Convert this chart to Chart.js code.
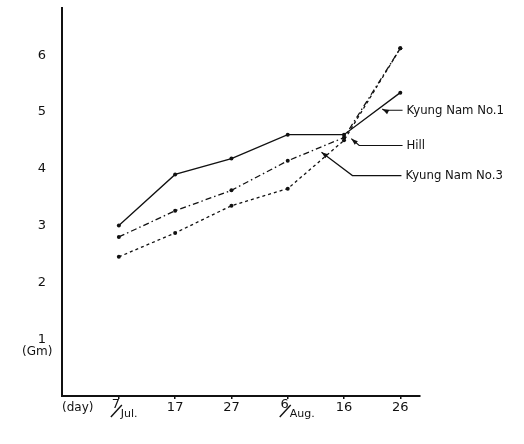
<!DOCTYPE html>
<html>
<head>
<meta charset="utf-8">
<script src="https://cdn.jsdelivr.net/npm/chart.js@4/dist/chart.umd.min.js"></script>
<style>
  html, body { margin: 0; padding: 0; background: #fff; }
  #wrap { width: 524px; height: 444px; position: relative; }
</style>
</head>
<body>
<div id="wrap"><canvas id="growthChart"></canvas></div>
<script>
// sampling dates (day / month)
const days = ["7", "17", "27", "6", "16", "26"]
const months = ["Jul.", "", "", "Aug.", "", ""]
const yTicks = [1, 2, 3, 4, 5, 6]

// weight (Gm)
const kyungNam1 = [3.0, 3.9, 4.18, 4.6, 4.6, 5.34]
const kyungNam3 = [2.8, 3.26, 3.62, 4.14, 4.55, 6.12]
const hill = [2.45, 2.87, 3.35, 3.65, 4.5, 6.12]

// callout leaders, in data units: arrow tip, elbow, end of line
const callouts = [
  { text: "Kyung Nam No.1", tip: [4.68, 5.05], elbow: [4.72, 5.03], end: [5.04, 5.03] },
  { text: "Hill", tip: [4.13, 4.53], elbow: [4.27, 4.41], end: [5.04, 4.41] },
  { text: "Kyung Nam No.3", tip: [3.6, 4.29], elbow: [4.15, 3.88], end: [5.02, 3.88] },
]

const toPoints = (vals) => vals.map((v, i) => ({ x: i, y: v }))

const ctx = document.getElementById("growthChart").getContext("2d")

const lineStyle = (label, vals, dash) => ({
  label: label,
  data: toPoints(vals),
  borderColor: "#111",
  backgroundColor: "#111",
  borderWidth: 1.3,
  borderDash: dash,
  pointRadius: 2,
  pointBorderWidth: 0,
  tension: 0,
})

const annotatePlugin = {
  id: "annotate",
  afterDraw(chart) {
    const { ctx, scales: { x, y } } = chart
    const px = (p) => [x.getPixelForValue(p[0]), y.getPixelForValue(p[1])]
    ctx.save()
    ctx.fillStyle = "#111"
    ctx.strokeStyle = "#111"

    // y tick labels
    ctx.font = "13px 'DejaVu Sans'"
    ctx.textAlign = "right"
    ctx.textBaseline = "middle"
    yTicks.forEach((t) => ctx.fillText(String(t), 46, y.getPixelForValue(t)))
    ctx.textAlign = "left"
    ctx.font = "12px 'DejaVu Sans'"
    ctx.fillText("(Gm)", 22, 352)

    // x tick labels
    const base = y.bottom + 12
    ctx.font = "12px 'DejaVu Sans'"
    ctx.fillText("(day)", 62, base)
    days.forEach((d, i) => {
      const cx = x.getPixelForValue(i)
      ctx.font = "13px 'DejaVu Sans'"
      if (months[i]) {
        ctx.textAlign = "center"
        ctx.fillText(d, cx - 3, base - 3)
        ctx.lineWidth = 1.4
        ctx.beginPath()
        ctx.moveTo(cx - 8, base + 9)
        ctx.lineTo(cx + 3, base - 3)
        ctx.stroke()
        ctx.font = "11px 'DejaVu Sans'"
        ctx.textAlign = "left"
        ctx.fillText(months[i], cx + 2, base + 6)
      } else {
        ctx.textAlign = "center"
        ctx.fillText(d, cx, base)
      }
    })

    // callouts
    ctx.lineWidth = 1.2
    ctx.font = "13px 'DejaVu Sans Condensed', 'DejaVu Sans'"
    ctx.textAlign = "left"
    callouts.forEach((c) => {
      const t = px(c.tip), e = px(c.elbow), n = px(c.end)
      ctx.beginPath()
      ctx.moveTo(t[0], t[1])
      ctx.lineTo(e[0], e[1])
      ctx.lineTo(n[0], n[1])
      ctx.stroke()
      const ang = Math.atan2(t[1] - e[1], t[0] - e[0])
      ctx.beginPath()
      ctx.moveTo(t[0], t[1])
      ctx.lineTo(t[0] - 7 * Math.cos(ang - 0.35), t[1] - 7 * Math.sin(ang - 0.35))
      ctx.lineTo(t[0] - 7 * Math.cos(ang + 0.35), t[1] - 7 * Math.sin(ang + 0.35))
      ctx.closePath()
      ctx.fill()
      ctx.fillText(c.text, n[0] + 4, n[1])
    })
    ctx.restore()
  },
}

new Chart(ctx, {
  type: "line",
  data: {
    datasets: [
      lineStyle("Kyung Nam No.1", kyungNam1, []),
      lineStyle("Kyung Nam No.3", kyungNam3, [6, 3, 1.5, 3]),
      lineStyle("Hill", hill, [3, 3]),
    ],
  },
  options: {
    responsive: true,
    maintainAspectRatio: false,
    animation: false,
    layout: { padding: { top: 8, right: 104, left: 0, bottom: 0 } },
    plugins: {
      legend: { display: false },
      tooltip: { enabled: false },
    },
    scales: {
      x: {
        type: "linear",
        min: -1.01,
        max: 5.35,
        afterBuildTicks: (scale) => {
          scale.ticks = days.map((d, i) => ({ value: i }))
        },
        afterFit: (scale) => {
          scale.height = 48
        },
        grid: { display: true, drawOnChartArea: false, tickLength: 3, color: "#111", lineWidth: 1.5 },
        border: { display: true, color: "#111", width: 2 },
        ticks: { display: false },
      },
      y: {
        type: "linear",
        min: 0,
        max: 6.83,
        afterBuildTicks: (scale) => {
          scale.ticks = yTicks.map((t) => ({ value: t }))
        },
        afterFit: (scale) => {
          scale.width = 62
        },
        grid: { display: false },
        border: { display: true, color: "#111", width: 2 },
        ticks: { display: false },
      },
    },
  },
  plugins: [annotatePlugin],
})
</script>
</body>
</html>
